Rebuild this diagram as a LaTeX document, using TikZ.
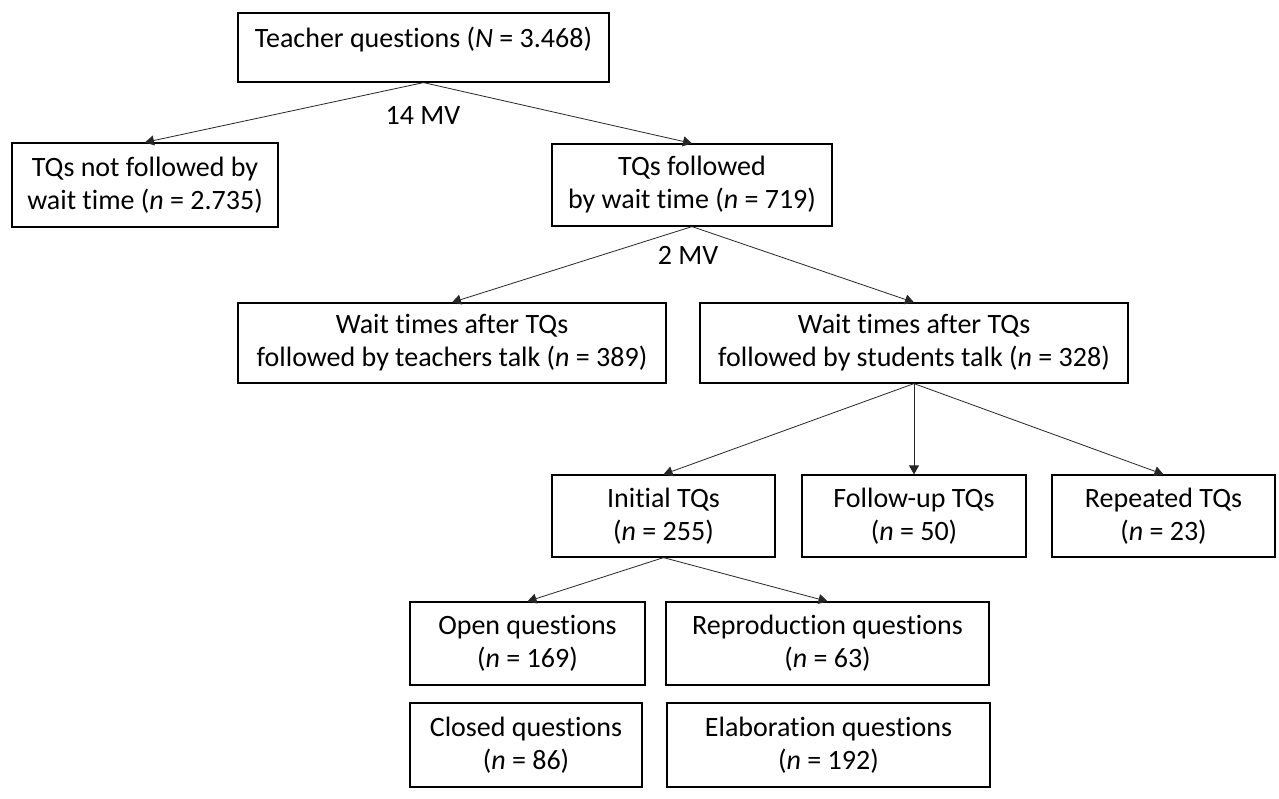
\documentclass[tikz,border=0pt]{standalone}
\usepackage{fontspec}
\setmainfont{Carlito}[Ligatures=NoCommon]
\usetikzlibrary{arrows.meta}
\begin{document}
\begin{tikzpicture}[x=1pt,y=-1pt,
  box/.style={rectangle,draw,line width=1.2pt,inner sep=0pt,align=center,font=\fontsize{28}{33}\selectfont},
  mv label/.style={inner sep=0pt,font=\fontsize{28}{33}\selectfont}]
  \useasboundingbox (0,0) rectangle (1279,799);

  \node[box,minimum width=371pt,minimum height=69pt,text height=20pt,text depth=20pt] (tq) at (423.5,47.5) {Teacher questions (\textit{N} = 3.468)};
  \node[box,minimum width=266pt,minimum height=84pt] (notwt) at (145,185) {TQs not followed by\\wait time (\textit{n} = 2.735)};
  \node[box,minimum width=280pt,minimum height=82pt] (wt) at (692,185) {TQs followed\\by wait time (\textit{n} = 719)};
  \node[box,minimum width=428pt,minimum height=80pt] (teach) at (452,343) {Wait times after TQs\\followed by teachers talk (\textit{n} = 389)};
  \node[box,minimum width=428pt,minimum height=80pt] (stud) at (914,343) {Wait times after TQs\\followed by students talk (\textit{n} = 328)};
  \node[box,minimum width=223pt,minimum height=82pt] (init) at (663.5,516) {Initial TQs\\(\textit{n} = 255)};
  \node[box,minimum width=224pt,minimum height=82pt] (follow) at (914,516) {Follow-up TQs\\(\textit{n} = 50)};
  \node[box,minimum width=223pt,minimum height=82pt] (rep) at (1163.5,516) {Repeated TQs\\(\textit{n} = 23)};
  \node[box,minimum width=235pt,minimum height=83pt] (open) at (527.5,643.5) {Open questions\\(\textit{n} = 169)};
  \node[box,minimum width=323pt,minimum height=83pt] (repro) at (827.5,643.5) {Reproduction questions\\(\textit{n} = 63)};
  \node[box,minimum width=232pt,minimum height=84pt] (closed) at (526,745) {Closed questions\\(\textit{n} = 86)};
  \node[box,minimum width=323pt,minimum height=84pt] (elab) at (828.5,745) {Elaboration questions\\(\textit{n} = 192)};

  \node[mv label] (mv1) at (423,115) {14 MV};
  \node[mv label] (mv2) at (688,255) {2 MV};

  \path[-{Triangle[length=9pt,width=10pt]},line width=0.8pt,black!85]
   (tq.south) edge (notwt.north)
   (tq.south) edge (wt.north)
   (wt.south) edge (teach.north)
   (wt.south) edge (stud.north)
   (stud.south) edge (init.north)
   (stud.south) edge (follow.north)
   (stud.south) edge (rep.north)
   (init.south) edge (open.north)
   (init.south) edge (repro.north);
\end{tikzpicture}
\end{document}
